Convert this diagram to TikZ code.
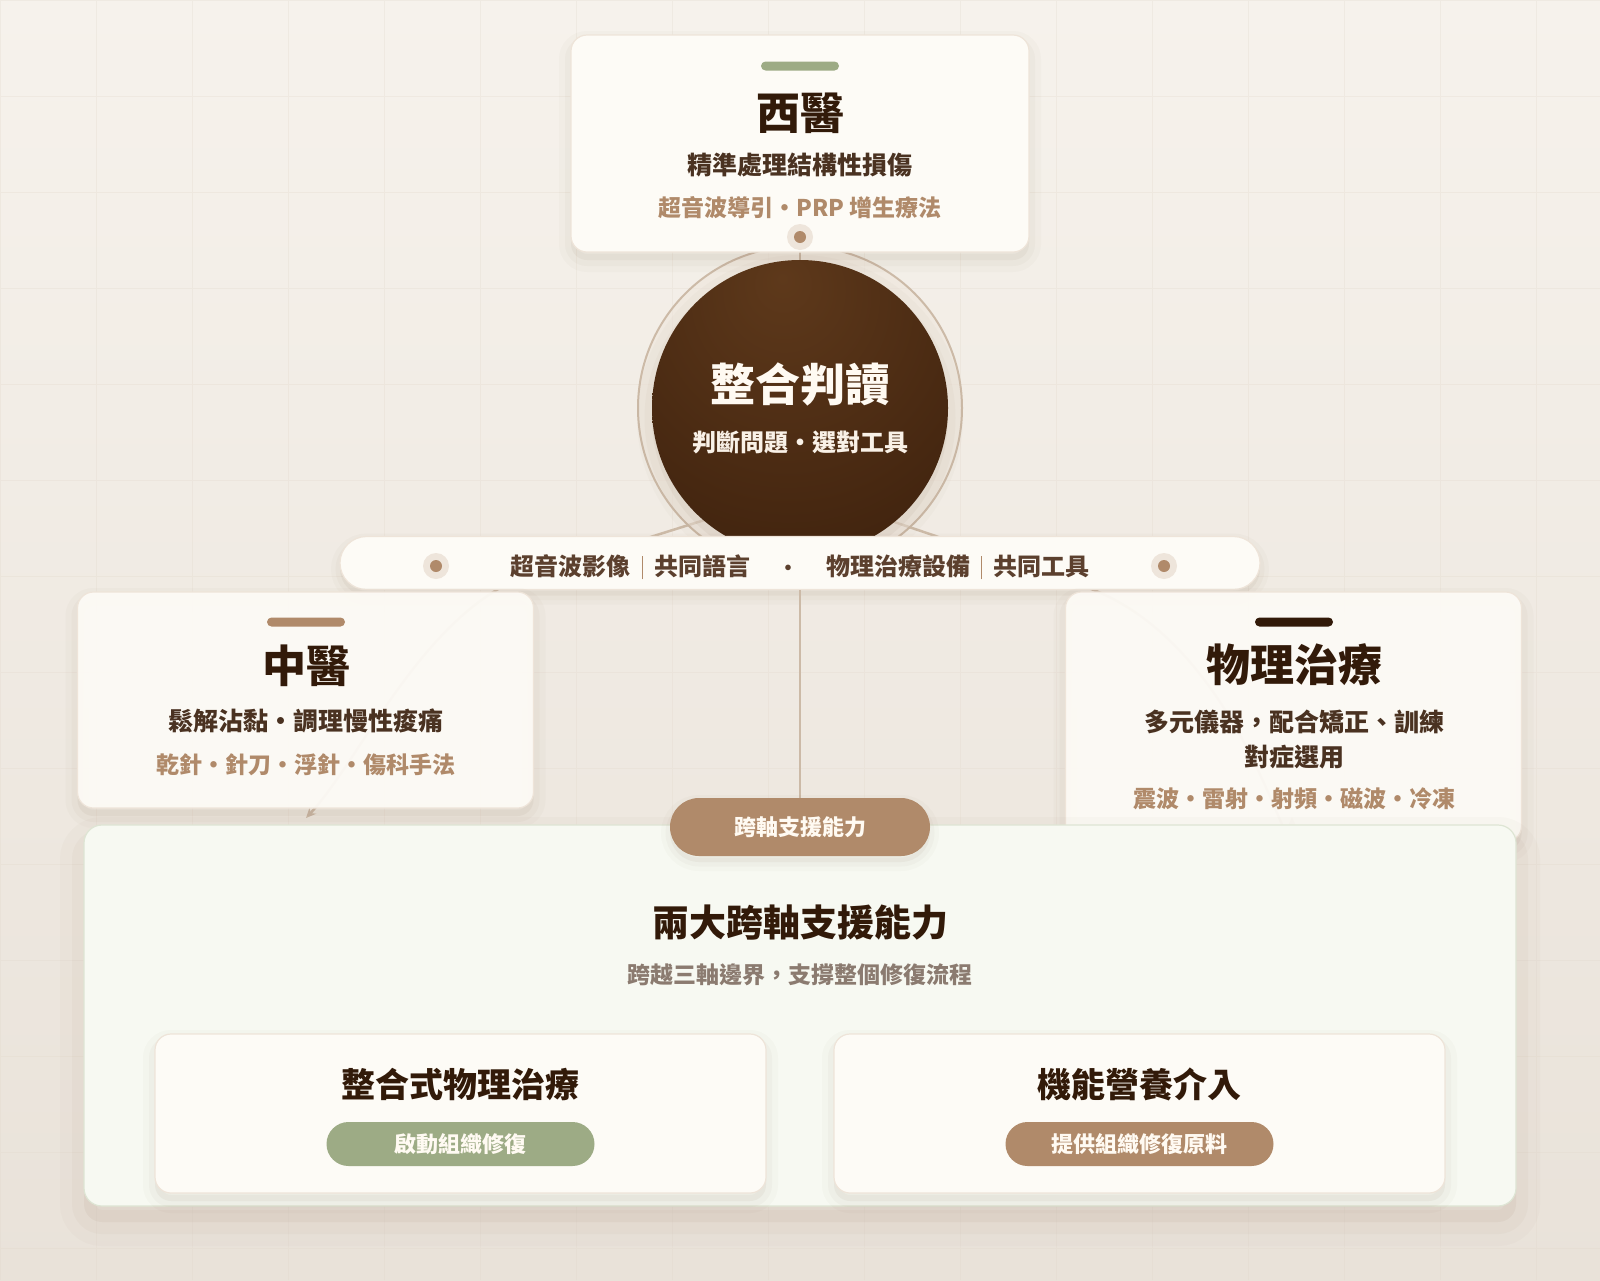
\documentclass[tikz,border=0pt]{standalone}
\usepackage{fontspec}
\setmainfont{Noto Sans CJK TC}
\usepackage{tikz}
\usetikzlibrary{
  arrows.meta, positioning, shapes.misc, calc
}
\definecolor{bgtop}{RGB}{246, 242, 236}
\definecolor{bgbot}{RGB}{233, 226, 217}
\definecolor{gridc}{RGB}{226, 216, 203}
\definecolor{cardbg}{RGB}{253, 251, 246}
\definecolor{cardline}{RGB}{238, 228, 217}
\definecolor{espresso}{RGB}{50, 26, 9}
\definecolor{bark}{RGB}{74, 50, 33}
\definecolor{mocha}{RGB}{92, 64, 46}
\definecolor{latte}{RGB}{176, 138, 106}
\definecolor{sage}{RGB}{157, 171, 133}
\definecolor{stone}{RGB}{139, 123, 112}
\definecolor{panelbg}{RGB}{247, 249, 242}
\definecolor{panelline}{RGB}{222, 229, 212}
\definecolor{linkc}{RGB}{204, 186, 167}
\definecolor{halo}{RGB}{238, 229, 219}
\definecolor{cream}{RGB}{255, 250, 242}
\definecolor{shadowc}{RGB}{110, 80, 50}
\definecolor{corein}{RGB}{94, 57, 27}
\definecolor{coreout}{RGB}{52, 26, 9}

\pgfdeclareradialshading{coreglow}{\pgfpoint{-3bp}{22bp}}{%
  color(0bp)=(corein); color(58bp)=(coreout); color(100bp)=(coreout)}

\newcommand{\sepbar}{\hspace{11pt}{\color{latte}\rule[-4pt]{1.3pt}{23pt}}\hspace{11pt}}

\begin{document}
\begin{tikzpicture}[
    x=1pt, y=-1pt,
    softshadow/.style={
      preaction={draw=shadowc, draw opacity=0.022, line width=#1*3,
                 transform canvas={yshift=-#1}},
      preaction={draw=shadowc, draw opacity=0.03, line width=#1*1.5,
                 transform canvas={yshift=-#1}},
      preaction={fill=shadowc, fill opacity=0.05,
                 transform canvas={yshift=-#1}}},
    card/.style={draw=cardline, fill=cardbg, line width=1.2pt,
                 rounded corners=16pt, inner sep=0pt, softshadow=8pt},
    bar/.style={fill=#1, rounded rectangle, minimum width=78pt,
                minimum height=9pt, inner sep=0pt},
    pin/.style={circle, fill=halo, minimum size=26pt, inner sep=0pt,
                path picture={\fill[latte] (path picture bounding box.center) circle (6pt);}},
    axis/.style={font=\fontsize{44pt}{50pt}\selectfont\bfseries,
                 text=espresso, inner sep=0pt},
    role/.style={font=\fontsize{25pt}{35pt}\selectfont\bfseries,
                 text=bark, align=center, inner sep=0pt},
    tools/.style={font=\fontsize{23pt}{28pt}\selectfont\bfseries,
                  text=latte, inner sep=0pt},
    pill/.style={fill=#1, rounded rectangle, text=cream, inner sep=0pt,
                 font=\fontsize{22pt}{26pt}\selectfont\bfseries},
    link/.style={draw=linkc, line width=2.5pt,
                 -{Stealth[length=10pt, width=9pt]}},
  ]
  \useasboundingbox (0,0) rectangle (1600,1280);
  \shade[top color=bgtop, bottom color=bgbot] (0,0) rectangle (1600,1280);
  \draw[gridc, opacity=0.3, line width=0.8pt, step=96pt] (0,0) grid (1600,1280);

  % faint links behind the cards
  \coordinate (corebase) at (800,490);
  \draw[link] (corebase) -- (520,578) .. controls (420,620) and (360,760) .. (306,818);
  \draw[link] (corebase) -- (1080,585) .. controls (1250,640) and (1292,900) .. (1292,817);

  % integration core
  \node[circle, minimum size=324pt, draw=linkc, line width=2pt,
        fill=halo, fill opacity=0.55] (ring) at (800,408) {};
  \draw[linkc, line width=2pt] (800,237) -- (800,262);
  \node[circle, minimum size=296pt, inner sep=0pt, shading=coreglow,
        softshadow=10pt] (core) at (800,408) {};
  \node[font=\fontsize{45pt}{50pt}\selectfont\bfseries, text=cream] (coretitle)
    at (800,384) {整合判讀};
  \node[font=\fontsize{24pt}{28pt}\selectfont\bfseries, text=cream!92!latte] (coresub)
    at (800,442) {判斷問題・選對工具};

  % western medicine
  \node[card, minimum width=458pt, minimum height=217pt] (west) at (800,143.5) {};
  \node[bar=sage] (westbar) at (800,66) {};
  \node[axis] (westname) at (800,113) {西醫};
  \node[role] (westrole) at (800,165) {精準處理結構性損傷};
  \node[tools] (westtools) at (800,208) {超音波導引・PRP 增生療法};
  \node[pin] (westdot) at (800,237) {};

  % shared tools band
  \node[draw=cardline, fill=cardbg, line width=1.2pt, rounded rectangle,
        minimum width=920pt, minimum height=53pt, inner sep=0pt,
        softshadow=6pt] (shared) at (800,563) {};
  \node[font=\fontsize{24pt}{28pt}\selectfont\bfseries, text=mocha, inner sep=0pt]
    (sharedtext) at (800,567)
    {超音波影像\sepbar 共同語言\hspace{28pt}{\fontsize{20pt}{22pt}\selectfont •}\hspace{28pt}物理治療設備\sepbar 共同工具};
  \node[pin] (sharedl) at (436,566) {};
  \node[pin] (sharedr) at (1164,566) {};

  % chinese medicine
  \node[card, fill opacity=0.94, minimum width=456pt, minimum height=216pt]
    (tcm) at (305.5,700) {};
  \node[bar=latte] (tcmbar) at (306,622) {};
  \node[axis] (tcmname) at (306,666) {中醫};
  \node[role] (tcmrole) at (306,721) {鬆解沾黏・調理慢性痠痛};
  \node[tools] (tcmtools) at (306,765) {乾針・針刀・浮針・傷科手法};

  % physical therapy
  \node[card, fill opacity=0.94, minimum width=456pt, minimum height=250pt]
    (pt) at (1293.5,717) {};
  \node[bar=espresso] (ptbar) at (1294,622) {};
  \node[axis] (ptname) at (1294,665) {物理治療};
  \node[role] (ptrole) at (1294,739) {多元儀器，配合矯正、訓練\\對症選用};
  \node[tools] (pttools) at (1294,799) {震波・雷射・射頻・磁波・冷凍};

  % cross-axis support
  \node[draw=panelline, fill=panelbg, line width=1.2pt, rounded corners=18pt,
        minimum width=1432pt, minimum height=381pt, inner sep=0pt,
        softshadow=16pt] (support) at (800,1015.5) {};
  \draw[linkc, line width=1.8pt] (shared.south) -- (800,798);
  \node[pill=latte, minimum width=260pt, minimum height=58pt, softshadow=6pt]
    (hub) at (800,827) {跨軸支援能力};
  \node[font=\fontsize{37pt}{42pt}\selectfont\bfseries, text=espresso] (supporttitle)
    at (800,923) {兩大跨軸支援能力};
  \node[font=\fontsize{23pt}{28pt}\selectfont\bfseries, text=stone] (supportsub)
    at (800,975) {跨越三軸邊界，支撐整個修復流程};

  \node[card, minimum width=611pt, minimum height=159pt] (ipt) at (460.5,1113.5) {};
  \node[font=\fontsize{34pt}{40pt}\selectfont\bfseries, text=espresso] (iptname)
    at (460.5,1084) {整合式物理治療};
  \node[pill=sage, minimum width=268pt, minimum height=44pt] (iptrole)
    at (460.5,1144) {啟動組織修復};

  \node[card, minimum width=611pt, minimum height=159pt] (nutri) at (1139.5,1113.5) {};
  \node[font=\fontsize{34pt}{40pt}\selectfont\bfseries, text=espresso] (nutriname)
    at (1139.5,1084) {機能營養介入};
  \node[pill=latte, minimum width=268pt, minimum height=44pt] (nutrirole)
    at (1139.5,1144) {提供組織修復原料};
\end{tikzpicture}
\end{document}
